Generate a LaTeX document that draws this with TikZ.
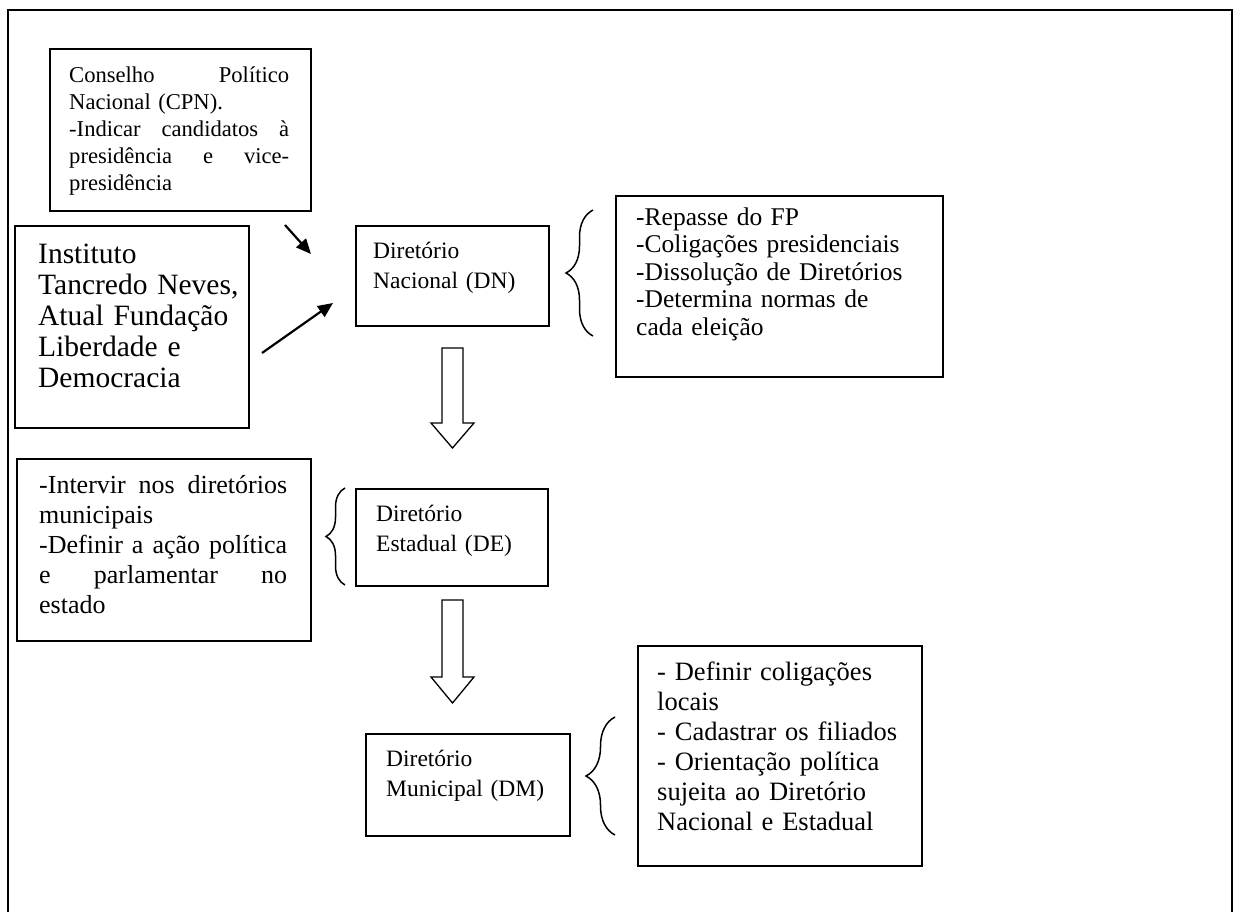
\documentclass[tikz,border=0pt]{standalone}
\usepackage{fontspec}
\setmainfont{Liberation Serif}
\usetikzlibrary{arrows.meta,decorations.pathreplacing,calc}
\newcommand\fA{\fontsize{22.6pt}{27pt}\selectfont}
\newcommand\fB{\fontsize{29.5pt}{31pt}\selectfont}
\newcommand\fC{\fontsize{23.5pt}{30pt}\selectfont}
\newcommand\fD{\fontsize{25.5pt}{27.5pt}\selectfont}
\newcommand\fE{\fontsize{26pt}{30pt}\selectfont}
\newcommand\fF{\fontsize{26.5pt}{30pt}\selectfont}
\newcommand\jline[2]{\leavevmode\hbox to #1{#2}}
\begin{document}
\begin{tikzpicture}[x=1pt,y=-1pt,
  boxnode/.style={draw, line width=1.5pt, anchor=north west, inner sep=0pt},
  txtnode/.style={anchor=north west, inner sep=0pt, align=left},
  thinarrow/.style={line width=2.2pt, -{Triangle[length=15pt,width=13pt]}},
  hollow/.style={draw, line width=1.3pt, fill=white, line join=miter},
  bracestyle/.style={line width=1.5pt, decorate, decoration={brace, amplitude=#1}}]
\useasboundingbox (0,0) rectangle (1236,911);
% outer frame
\coordinate (fbl) at (8,915);
\coordinate (ftl) at (8,10);
\coordinate (ftr) at (1232,10);
\coordinate (fbr) at (1232,915);
\draw[line width=2pt] (fbl) -- (ftl) -- (ftr) -- (fbr);

% CPN
\node[boxnode, minimum width=261pt, minimum height=162pt] (cpn) at (49,48) {};
\node[txtnode, text width=220pt, font=\fA] (cpnt) at ($(cpn.north west)+(20,15.1)$)
 {\strut\jline{220pt}{Conselho\hfill Político}\\
  Nacional (CPN).\\
  \jline{220pt}{-Indicar\hfill candidatos\hfill à}\\
  \jline{220pt}{presidência\hfill e\hfill vice-}\\
  presidência};

% Instituto
\node[boxnode, minimum width=234pt, minimum height=202pt] (inst) at (14,225) {};
\node[txtnode, text width=215pt, font=\fB] (instt) at ($(inst.north west)+(24,16.3)$)
 {\strut Instituto\\Tancredo Neves,\\Atual Fundação\\Liberdade e\\Democracia};

% Diretorio Nacional
\node[boxnode, minimum width=193pt, minimum height=100pt] (dn) at (355,225) {};
\node[txtnode, text width=170pt, font=\fC] (dnt) at ($(dn.north west)+(18,12)$)
 {\strut Diretório\\Nacional (DN)};

% arrows into DN
\coordinate (a1s) at (285,225);
\coordinate (a1e) at (311,254);
\coordinate (a2s) at (262,353);
\coordinate (a2e) at (333,303);
\draw[thinarrow] (a1s) -- (a1e);
\draw[thinarrow] (a2s) -- (a2e);

% brace 1 and right box 1
\coordinate (b1s) at (593,336);
\coordinate (b1e) at (593,210);
\draw[bracestyle=27pt] (b1s) -- (b1e);
\node[boxnode, minimum width=327pt, minimum height=181pt] (r1) at (615,195) {};
\node[txtnode, text width=310pt, font=\fD] (r1t) at ($(r1.north west)+(21,10.75)$)
 {\strut -Repasse do FP\\-Coligações presidenciais\\-Dissolução de Diretórios\\-Determina normas de\\cada eleição};

% hollow arrow 1
\coordinate (h1) at (452.5,348);
\draw[hollow] (h1) ++(-10.5,0) -- ++(0,75) -- ++(-11,0) -- ++(21.5,25) -- ++(21.5,-25) -- ++(-11,0) -- ++(0,-75) -- cycle;

% Intervir box
\node[boxnode, minimum width=294pt, minimum height=182pt] (intv) at (16,458) {};
\node[txtnode, text width=248pt, font=\fE] (intvt) at ($(intv.north west)+(23,14)$)
 {\strut\jline{248pt}{-Intervir\hfill nos\hfill diretórios}\\
  municipais\\
  \jline{248pt}{-Definir\hfill a\hfill ação\hfill política}\\
  \jline{248pt}{e\hfill parlamentar\hfill no}\\
  estado};

% brace 2 and DE
\coordinate (b2s) at (345,585);
\coordinate (b2e) at (345,488);
\draw[bracestyle=19pt] (b2s) -- (b2e);
\node[boxnode, minimum width=192pt, minimum height=97pt] (de) at (355,488) {};
\node[txtnode, text width=170pt, font=\fC] (det) at ($(de.north west)+(21,12)$)
 {\strut Diretório\\Estadual (DE)};

% hollow arrow 2
\coordinate (h2) at (452.5,600);
\draw[hollow] (h2) ++(-10.5,0) -- ++(0,77) -- ++(-11,0) -- ++(21.5,26) -- ++(21.5,-26) -- ++(-11,0) -- ++(0,-77) -- cycle;

% DM
\node[boxnode, minimum width=204pt, minimum height=102pt] (dm) at (365,733) {};
\node[txtnode, text width=190pt, font=\fC] (dmt) at ($(dm.north west)+(21,12)$)
 {\strut Diretório\\Municipal (DM)};

% brace 3 and right box 3
\coordinate (b3s) at (615,835);
\coordinate (b3e) at (615,717);
\draw[bracestyle=29pt] (b3s) -- (b3e);
\node[boxnode, minimum width=284pt, minimum height=220pt] (r3) at (637,645) {};
\node[txtnode, text width=270pt, font=\fF] (r3t) at ($(r3.north west)+(20,14)$)
 {\strut - Definir coligações\\locais\\- Cadastrar os filiados\\- Orientação política\\sujeita ao Diretório\\Nacional e Estadual};
\end{tikzpicture}
\end{document}
